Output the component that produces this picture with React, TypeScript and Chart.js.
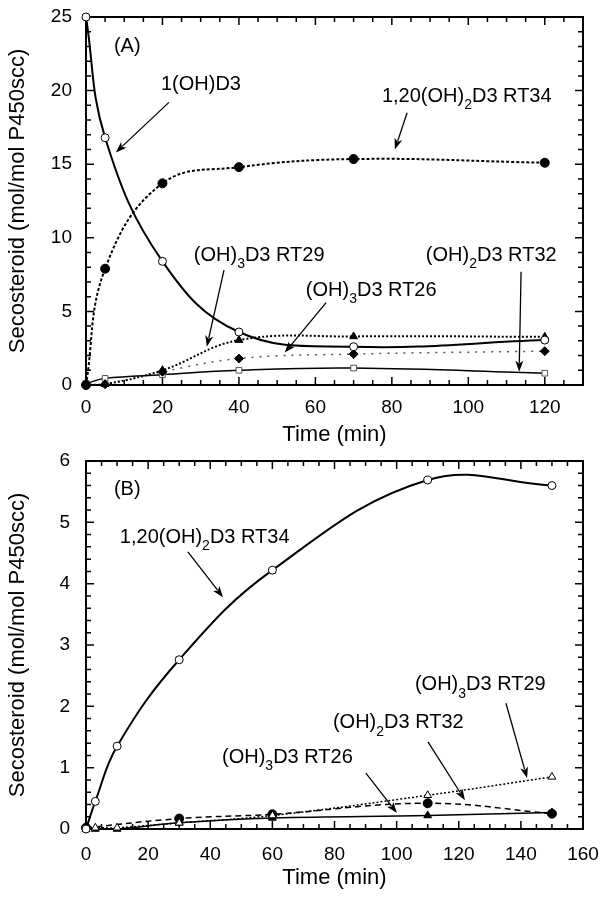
import React, { useEffect, useRef } from "react";
import { Chart, registerables } from "chart.js";
Chart.register(...registerables);

const FONT = '"Liberation Sans", Arial, Helvetica, sans-serif';

// ---------- Panel A data ----------
const timeA = [0, 5, 20, 40, 70, 120];
const a_1OHD3 = [25, 16.8, 8.4, 3.6, 2.6, 3.05];
const a_RT34 = [0, 7.9, 13.7, 14.8, 15.35, 15.1];
const a_RT29 = [0, 0.05, 1.0, 3.05, 3.3, 3.27];
const a_RT26 = [0, 0.05, 0.9, 1.8, 2.1, 2.3];
const a_RT32 = [0.1, 0.45, 0.7, 1.0, 1.15, 0.8];
const xTicksA = [0, 20, 40, 60, 80, 100, 120];
const yTicksA = [0, 5, 10, 15, 20, 25];

// ---------- Panel B data ----------
const timeB = [0, 3, 10, 30, 60, 110, 150];
const b_RT34 = [0, 0.45, 1.35, 2.76, 4.22, 5.69, 5.6];
const b_RT29 = [0, 0.02, 0.02, 0.1, 0.22, 0.55, 0.85];
const b_RT32 = [0.02, null, null, 0.17, 0.24, 0.42, 0.25];
const b_RT26 = [0, 0, 0, 0.1, 0.18, 0.22, 0.27];
const xTicksB = [0, 20, 40, 60, 80, 100, 120, 140, 160];
const yTicksB = [0, 1, 2, 3, 4, 5, 6];

// ---------- annotation texts ----------
type Part = [string, boolean];
const labA_panel: Part[] = [["(A)", false]];
const labA_1OH: Part[] = [["1(OH)D3", false]];
const labA_RT34: Part[] = [["1,20(OH)", false], ["2", true], ["D3 RT34", false]];
const labA_RT29: Part[] = [["(OH)", false], ["3", true], ["D3 RT29", false]];
const labA_RT26: Part[] = [["(OH)", false], ["3", true], ["D3 RT26", false]];
const labA_RT32: Part[] = [["(OH)", false], ["2", true], ["D3 RT32", false]];
const labB_panel: Part[] = [["(B)", false]];
const labB_RT34: Part[] = [["1,20(OH)", false], ["2", true], ["D3 RT34", false]];
const labB_RT29: Part[] = [["(OH)", false], ["3", true], ["D3 RT29", false]];
const labB_RT32: Part[] = [["(OH)", false], ["2", true], ["D3 RT32", false]];
const labB_RT26: Part[] = [["(OH)", false], ["3", true], ["D3 RT26", false]];

// annotation placements (data coordinates): text anchor (left, middle), arrow from -> to
const annA = [
  { parts: labA_panel, x: 7.3, y: 23.0, arrow: null },
  { parts: labA_1OH, x: 19.6, y: 20.4, arrow: [21.7, 19.2, 7.8, 15.8] },
  { parts: labA_RT34, x: 77.4, y: 19.6, arrow: [84.0, 18.5, 80.8, 16.0] },
  { parts: labA_RT29, x: 28.2, y: 8.8, arrow: [36.1, 7.8, 31.6, 2.6] },
  { parts: labA_RT26, x: 57.5, y: 6.45, arrow: [62.8, 5.6, 52.0, 2.2] },
  { parts: labA_RT32, x: 88.9, y: 8.8, arrow: [113.8, 7.7, 113.3, 0.9] },
];
const annB = [
  { parts: labB_panel, x: 9.0, y: 5.53, arrow: null },
  { parts: labB_RT34, x: 10.9, y: 4.76, arrow: [32.8, 4.52, 44.1, 3.78] },
  { parts: labB_RT29, x: 105.9, y: 2.35, arrow: [135.2, 2.05, 142.0, 0.83] },
  { parts: labB_RT32, x: 79.5, y: 1.73, arrow: [110.1, 1.42, 122.0, 0.47] },
  { parts: labB_RT26, x: 43.8, y: 1.17, arrow: [90.1, 0.91, 100.1, 0.26] },
];

function pts(xs: number[], ys: (number | null)[]) {
  return xs.map((x, i) => ({ x, y: ys[i] }));
}

function framePlugin(xMinor: number, xMajor: number, yMinor: number, yMajor: number) {
  return {
    id: "frameTicks",
    beforeDatasetsDraw(chart: any) {
      const { ctx, chartArea: ca, scales } = chart;
      const xs = scales.x, ys = scales.y;
      ctx.save();
      ctx.strokeStyle = "#000";
      ctx.lineWidth = 1.5;
      const isMajor = (v: number, m: number) => Math.abs(v / m - Math.round(v / m)) < 1e-6;
      for (let i = 0; ; i++) {
        const v = i * xMinor;
        if (v > xs.max + 1e-9) break;
        const px = xs.getPixelForValue(v);
        const len = isMajor(v, xMajor) ? 8 : 5;
        ctx.beginPath();
        ctx.moveTo(px, ca.bottom); ctx.lineTo(px, ca.bottom - len);
        ctx.moveTo(px, ca.top); ctx.lineTo(px, ca.top + len);
        ctx.stroke();
      }
      for (let i = 0; ; i++) {
        const v = i * yMinor;
        if (v > ys.max + 1e-9) break;
        const py = ys.getPixelForValue(v);
        const len = isMajor(v, yMajor) ? 8 : 5;
        ctx.beginPath();
        ctx.moveTo(ca.left, py); ctx.lineTo(ca.left + len, py);
        ctx.moveTo(ca.right, py); ctx.lineTo(ca.right - len, py);
        ctx.stroke();
      }
      ctx.lineWidth = 2;
      ctx.strokeRect(ca.left, ca.top, ca.right - ca.left, ca.bottom - ca.top);
      ctx.restore();
    },
  };
}

function annotPlugin(anns: any[]) {
  return {
    id: "annots",
    afterDatasetsDraw(chart: any) {
      const { ctx, scales } = chart;
      const xs = scales.x, ys = scales.y;
      ctx.save();
      ctx.fillStyle = "#000";
      ctx.strokeStyle = "#000";
      ctx.textBaseline = "middle";
      ctx.textAlign = "left";
      for (const a of anns) {
        let px = xs.getPixelForValue(a.x);
        const py = ys.getPixelForValue(a.y);
        for (const [t, sub] of a.parts) {
          ctx.font = sub ? `14px ${FONT}` : `20px ${FONT}`;
          ctx.fillText(t, px, sub ? py + 9 : py);
          px += ctx.measureText(t).width;
        }
        if (a.arrow) {
          const [x1, y1, x2, y2] = a.arrow;
          const p1x = xs.getPixelForValue(x1), p1y = ys.getPixelForValue(y1);
          const p2x = xs.getPixelForValue(x2), p2y = ys.getPixelForValue(y2);
          const ang = Math.atan2(p2y - p1y, p2x - p1x);
          const hl = 11, hw = 4;
          ctx.lineWidth = 1.3;
          ctx.beginPath();
          ctx.moveTo(p1x, p1y);
          ctx.lineTo(p2x - Math.cos(ang) * hl * 0.8, p2y - Math.sin(ang) * hl * 0.8);
          ctx.stroke();
          ctx.beginPath();
          ctx.moveTo(p2x, p2y);
          ctx.lineTo(p2x - Math.cos(ang) * hl - Math.sin(ang) * hw, p2y - Math.sin(ang) * hl + Math.cos(ang) * hw);
          ctx.lineTo(p2x - Math.cos(ang) * hl * 0.75, p2y - Math.sin(ang) * hl * 0.75);
          ctx.lineTo(p2x - Math.cos(ang) * hl + Math.sin(ang) * hw, p2y - Math.sin(ang) * hl - Math.cos(ang) * hw);
          ctx.closePath();
          ctx.fill();
        }
      }
      ctx.restore();
    },
  };
}

const openPt = { backgroundColor: "#fff", pointBackgroundColor: "#fff", pointBorderColor: "#000", pointBorderWidth: 1 };
const fillPt = { backgroundColor: "#000", pointBackgroundColor: "#000", pointBorderColor: "#000", pointBorderWidth: 1 };

function baseOptions(cfg: any) {
  return {
    responsive: false,
    animation: false,
    devicePixelRatio: 1,
    layout: { padding: { top: cfg.padTop, right: 20, left: 0, bottom: 0 } },
    plugins: { legend: { display: false }, tooltip: { enabled: false } },
    elements: { line: { tension: 0.4 } },
    scales: {
      x: {
        type: "linear",
        min: 0,
        max: cfg.xMax,
        afterBuildTicks: (s: any) => { s.ticks = cfg.xTicks.map((v: number) => ({ value: v })); },
        afterFit: (s: any) => { s.height = cfg.xHeight; s.paddingLeft = 0; s.paddingRight = 0; s.paddingTop = 0; s.paddingBottom = 0; },
        grid: { display: false, drawTicks: false },
        border: { display: false },
        ticks: { color: "#000", font: { family: FONT, size: 19 }, padding: cfg.xPad, maxRotation: 0, autoSkip: false },
        title: { display: true, text: "Time (min)", color: "#000", font: { family: FONT, size: 22 }, padding: { top: 0, bottom: cfg.xTitlePad } },
      },
      y: {
        type: "linear",
        min: 0,
        max: cfg.yMax,
        afterBuildTicks: (s: any) => { s.ticks = cfg.yTicks.map((v: number) => ({ value: v })); },
        afterFit: (s: any) => { s.width = 86; s.paddingTop = 0; s.paddingBottom = 0; s.paddingLeft = 0; s.paddingRight = 0; },
        grid: { display: false, drawTicks: false },
        border: { display: false },
        ticks: { color: "#000", font: { family: FONT, size: 19 }, padding: cfg.yPad },
        title: { display: true, text: "Secosteroid (mol/mol P450scc)", color: "#000", font: { family: FONT, size: 22 }, padding: { top: 5, bottom: 0 } },
      },
    },
  };
}

function PanelA() {
  const ref = useRef<HTMLCanvasElement>(null);
  useEffect(() => {
    const chart = new Chart(ref.current!, {
      type: "line",
      data: {
        datasets: [
          { label: "1(OH)D3", data: pts(timeA, a_1OHD3), borderColor: "#000", borderWidth: 2, pointStyle: "circle", pointRadius: 4, clip: false, ...openPt },
          { label: "1,20(OH)2D3 RT34", data: pts(timeA, a_RT34), borderColor: "#000", borderWidth: 2, borderDash: [3, 2], pointStyle: "circle", pointRadius: 4.5, clip: false, ...fillPt },
          { label: "(OH)3D3 RT29", data: pts(timeA, a_RT29), borderColor: "#000", borderWidth: 2, borderDash: [2, 2], pointStyle: "triangle", pointRadius: 4.5, clip: false, ...fillPt },
          { label: "(OH)3D3 RT26", data: pts(timeA, a_RT26), borderColor: "#555", borderWidth: 1.5, borderDash: [2, 6], pointStyle: "rectRot", pointRadius: 4.5, clip: false, ...fillPt },
          { label: "(OH)2D3 RT32", data: pts(timeA, a_RT32), borderColor: "#000", borderWidth: 1.5, pointStyle: "rect", pointRadius: 4, clip: false, ...openPt, pointBorderColor: "#555" },
        ],
      },
      options: baseOptions({ padTop: 17, xMax: 130, xTicks: xTicksA, yMax: 25, yTicks: yTicksA, xHeight: 65, xPad: 11, yPad: 14, xTitlePad: 2 }) as any,
      plugins: [framePlugin(5, 20, 1, 5), annotPlugin(annA)],
    });
    return () => chart.destroy();
  }, []);
  return <canvas ref={ref} width={603} height={450} style={{ display: "block", width: 603, height: 450 }} />;
}

function PanelB() {
  const ref = useRef<HTMLCanvasElement>(null);
  useEffect(() => {
    const chart = new Chart(ref.current!, {
      type: "line",
      data: {
        datasets: [
          { label: "1,20(OH)2D3 RT34", data: pts(timeB, b_RT34), borderColor: "#000", borderWidth: 2, pointStyle: "circle", pointRadius: 4, clip: false, ...openPt },
          { label: "(OH)3D3 RT29", data: pts(timeB, b_RT29), borderColor: "#000", borderWidth: 1.5, borderDash: [2, 2], pointStyle: "triangle", pointRadius: 4.5, clip: false, ...openPt },
          { label: "(OH)2D3 RT32", data: pts(timeB, b_RT32), borderColor: "#000", borderWidth: 1.5, borderDash: [6, 4], spanGaps: true, pointStyle: "circle", pointRadius: 4.5, clip: false, ...fillPt },
          { label: "(OH)3D3 RT26", data: pts(timeB, b_RT26), borderColor: "#000", borderWidth: 1.5, pointStyle: "triangle", pointRadius: 4.5, clip: false, ...fillPt },
        ],
      },
      options: baseOptions({ padTop: 11, xMax: 160, xTicks: xTicksB, yMax: 6, yTicks: yTicksB, xHeight: 71, xPad: 14, yPad: 16, xTitlePad: 9 }) as any,
      plugins: [framePlugin(5, 20, 0.2, 1), annotPlugin(annB)],
    });
    return () => chart.destroy();
  }, []);
  return <canvas ref={ref} width={603} height={450} style={{ display: "block", width: 603, height: 450 }} />;
}

export default function App() {
  useEffect(() => {
    document.body.style.margin = "0";
    document.body.style.background = "#fff";
  }, []);
  return (
    <div style={{ position: "absolute", left: 0, top: 0, width: 603, height: 900, background: "#fff" }}>
      <PanelA />
      <PanelB />
    </div>
  );
}
